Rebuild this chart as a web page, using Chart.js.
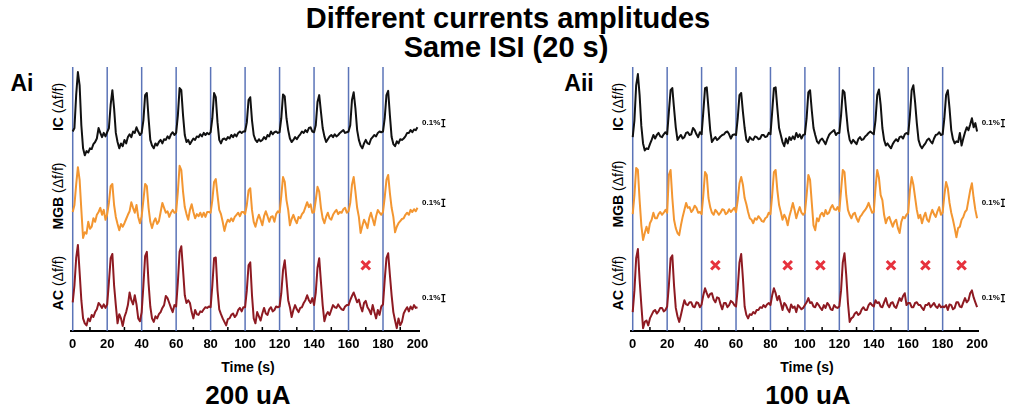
<!DOCTYPE html>
<html lang="en">
<head>
    <meta charset="UTF-8">
    <title>Different currents amplitudes, same ISI</title>
    <script src="https://cdn.jsdelivr.net/npm/chart.js"></script>
    <style>
        body {
            margin: 0;
            background: #fff;
            font-family: Arial, "Liberation Sans", sans-serif;
            color: #000;
        }
        #wrap {
            position: relative;
            width: 1016px;
            height: 411px;
            overflow: hidden;
        }
        canvas {
            position: absolute;
            top: 0;
        }
        .lbl {
            position: absolute;
            transform: translate(-50%, -50%);
            white-space: nowrap;
            font-weight: bold;
            line-height: 1;
        }
        .ylab {
            position: absolute;
            transform: translate(-50%, -50%) rotate(-90deg);
            white-space: nowrap;
            font-size: 14px;
            line-height: 1;
        }
        .ylab b { font-weight: bold; }
    </style>
</head>
<body>
<div id="wrap">
    <div class="lbl" style="left:508px;top:18px;font-size:29px">Different currents amplitudes</div>
    <div class="lbl" style="left:506px;top:47px;font-size:29px">Same ISI (20 s)</div>

    <div class="lbl" style="left:22px;top:83px;font-size:23px">Ai</div>
    <div class="lbl" style="left:579px;top:83px;font-size:23px">Aii</div>

    <div class="ylab" style="left:58px;top:107px"><b>IC</b> (Δf/f)</div>
    <div class="ylab" style="left:58px;top:196px"><b>MGB</b> (Δf/f)</div>
    <div class="ylab" style="left:58px;top:283px"><b>AC</b> (Δf/f)</div>
    <div class="ylab" style="left:618px;top:107px"><b>IC</b> (Δf/f)</div>
    <div class="ylab" style="left:618px;top:194px"><b>MGB</b> (Δf/f)</div>
    <div class="ylab" style="left:618px;top:283px"><b>AC</b> (Δf/f)</div>

    <div class="lbl" style="left:248px;top:367px;font-size:14px">Time (s)</div>
    <div class="lbl" style="left:807px;top:367px;font-size:14px">Time (s)</div>
    <div class="lbl" style="left:248px;top:395px;font-size:26px">200 uA</div>
    <div class="lbl" style="left:808px;top:395px;font-size:26px">100 uA</div>

    <canvas id="panelAi" width="508" height="411" style="left:0"></canvas>
    <canvas id="panelAii" width="508" height="411" style="left:508px"></canvas>
</div>

<script>
    // one sample per second, 0..200 s; values are Δf/f in %
    const SAMPLE_S = 1;

    // stimulus onsets (s), same for both current levels
    const stimTimes = [0, 20, 40, 60, 80, 100, 120, 140, 160, 180];

    // minor marks along the time axis (s)
    const axisMarks = [10, 30, 50, 70, 90, 110, 130, 150, 170, 190];

    // stimuli with no cortical response (marked with x)
    const missedAi = [170];
    const missedAii = [48, 90, 109, 150, 170, 191];

    // 200 uA
    const icAi = [
        0.01, 0.06, 0.53, 0.86, 0.67, 0.1, -0.23, -0.33, -0.27, -0.29, -0.23, -0.24, -0.17, -0.14, -0.09, 0.06, -0.01, -0.07, -0.01, -0.06,
        0, 0.06, 0.39, 0.6, 0.34, -0.01, -0.14, -0.23, -0.16, -0.2, -0.11, -0.16, -0.07, -0.03, -0.07, 0.01, -0.01, 0.07, 0.01, -0.04,
        -0.01, 0.17, 0.53, 0.56, 0.2, -0.11, -0.19, -0.23, -0.16, -0.19, -0.14, -0.11, -0.16, -0.1, -0.11, -0.06, -0.09, -0.03, 0, -0.04,
        -0.01, 0.24, 0.63, 0.6, 0.24, -0.04, -0.14, -0.11, -0.17, -0.13, -0.09, -0.11, -0.06, -0.07, -0.03, -0.06, -0.01, -0.04, -0.01, -0.03,
        0, 0.2, 0.56, 0.5, 0.14, -0.11, -0.16, -0.1, -0.09, -0.11, -0.07, -0.09, -0.04, -0.07, -0.03, -0.06, -0.01, 0.01, -0.01, 0.01,
        0.01, 0.14, 0.46, 0.5, 0.17, -0.04, -0.11, -0.14, -0.1, -0.13, -0.11, -0.07, -0.1, -0.04, -0.06, 0.01, -0.03, 0, 0.01, -0.01,
        0, 0.2, 0.54, 0.51, 0.2, 0.03, -0.09, -0.14, -0.11, -0.07, -0.1, -0.06, -0.03, 0.01, -0.01, 0.03, 0, 0.06, 0.07, 0.01,
        0, 0.1, 0.43, 0.53, 0.29, 0.06, -0.06, -0.14, -0.1, -0.06, -0.04, -0.07, -0.03, -0.06, -0.04, -0.01, 0.01, 0.03, -0.01, 0,
        0.01, 0.1, 0.46, 0.57, 0.34, 0.03, -0.11, -0.19, -0.23, -0.16, -0.11, -0.16, -0.17, -0.1, -0.07, -0.04, -0.06, -0.01, 0.01, 0,
        0.01, 0.2, 0.53, 0.59, 0.24, -0.07, -0.17, -0.2, -0.13, -0.16, -0.1, -0.11, -0.09, -0.06, -0.01, -0.01, 0.03, 0, 0.04, 0.03, 0.07
    ];
    const mgbAi = [
        0, 0.1, 0.39, 0.64, 0.46, 0.03, -0.37, -0.29, -0.31, -0.14, -0.24, -0.21, -0.09, -0.14, -0.04, 0, 0.06, -0.04, 0.03, -0.11,
        -0.03, 0.13, 0.37, 0.4, 0.1, -0.07, -0.17, -0.26, -0.17, -0.21, -0.16, -0.1, -0.04, 0.01, 0.14, 0.06, -0.01, 0.1, -0.07, -0.16,
        -0.06, 0.17, 0.4, 0.37, 0.06, -0.14, -0.23, -0.14, -0.09, -0.17, -0.13, 0, 0.13, 0.06, -0.01, 0.01, -0.07, -0.01, 0.03, -0.01,
        0, 0.29, 0.66, 0.6, 0.29, 0.07, -0.03, -0.11, 0.03, 0.11, 0, -0.09, -0.03, -0.06, -0.01, -0.07, -0.01, -0.07, 0, 0,
        -0.01, 0.17, 0.43, 0.47, 0.24, 0.03, -0.03, -0.14, -0.27, -0.17, -0.11, -0.14, -0.09, -0.13, -0.07, -0.04, -0.01, -0.06, 0, 0,
        -0.03, 0.1, 0.31, 0.34, 0.03, -0.14, -0.21, -0.11, -0.04, -0.11, -0.19, -0.06, 0.01, -0.06, -0.14, -0.07, -0.06, -0.14, -0.03, 0.01,
        -0.01, 0.23, 0.5, 0.43, 0.17, 0.03, -0.19, -0.1, -0.04, -0.11, -0.16, -0.07, -0.09, -0.03, 0, 0.07, 0.14, 0.07, 0.11, -0.01,
        0, 0.17, 0.36, 0.29, 0.06, -0.09, -0.16, -0.07, -0.01, -0.09, -0.11, -0.04, 0, 0.03, -0.03, 0, -0.01, 0.04, 0.06, -0.01,
        0.01, 0.13, 0.39, 0.5, 0.29, 0.06, -0.07, -0.3, -0.2, -0.11, -0.16, -0.23, -0.09, -0.01, -0.1, -0.19, -0.06, 0.03, -0.01, -0.04,
        0, 0.21, 0.46, 0.53, 0.27, 0.06, -0.07, -0.29, -0.21, -0.16, -0.13, -0.1, -0.09, -0.04, -0.01, -0.04, 0.03, 0, 0.04, 0.01, 0.06
    ];
    const acAi = [
        0.07, 0.31, 0.7, 0.89, 0.5, 0.1, -0.16, -0.23, -0.26, -0.16, -0.2, -0.11, -0.14, -0.07, -0.03, 0.06, 0.03, -0.01, 0.04, -0.01,
        0.04, 0.36, 0.7, 0.76, 0.31, 0.03, -0.23, -0.1, -0.16, -0.27, -0.14, -0.07, 0.03, 0.21, 0.1, 0.04, 0.17, 0.04, -0.16, -0.2,
        -0.07, 0.31, 0.73, 0.79, 0.34, 0.01, -0.16, -0.21, -0.13, -0.16, -0.1, -0.07, -0.01, 0.03, 0.16, 0.13, 0.06, -0.01, -0.07, 0.03,
        0.01, 0.36, 0.79, 0.87, 0.53, 0.17, 0.06, 0.1, 0.06, -0.07, -0.16, -0.04, -0.1, -0.11, -0.06, -0.07, -0.03, 0, -0.01, 0.01,
        0, 0.31, 0.7, 0.71, 0.24, -0.03, -0.1, -0.16, -0.21, -0.26, -0.17, -0.16, -0.11, -0.09, -0.14, -0.11, -0.04, -0.01, -0.06, 0,
        0, 0.24, 0.6, 0.64, 0.17, -0.16, -0.23, -0.07, -0.13, -0.19, -0.09, -0.01, -0.09, -0.11, -0.03, 0, -0.06, -0.04, 0.01, 0,
        0.01, 0.2, 0.53, 0.67, 0.39, 0.1, 0, -0.14, -0.04, 0.03, -0.03, -0.07, -0.01, 0, 0.06, 0.1, 0.17, 0.1, 0.06, 0.13,
        0.03, 0.21, 0.56, 0.7, 0.36, 0.03, -0.2, -0.11, -0.07, -0.11, -0.04, 0.03, 0, -0.01, 0.04, 0, -0.03, -0.04, 0.01, 0.03,
        0.03, 0.1, 0.16, 0.21, 0.14, 0.07, 0.11, 0.01, -0.06, 0.06, 0.09, 0, -0.04, -0.1, 0.03, -0.07, -0.16, -0.04, -0.11, 0.01,
        0.04, 0.39, 0.7, 0.77, 0.46, 0.17, -0.07, -0.19, -0.3, -0.16, -0.26, -0.21, -0.09, -0.04, 0, -0.06, 0.01, -0.03, 0.03, -0.01, 0
    ];

    // 100 uA
    const icAii = [
        -0.07, 0.17, 0.67, 0.83, 0.53, 0.09, -0.16, -0.26, -0.23, -0.24, -0.17, -0.11, -0.04, -0.09, -0.04, -0.01, -0.06, -0.07, -0.03, 0,
        -0.03, 0.29, 0.6, 0.63, 0.34, 0.07, -0.11, -0.07, -0.04, -0.09, -0.07, -0.01, 0, -0.04, -0.03, 0.06, 0.03, -0.03, -0.07, 0,
        -0.03, 0.29, 0.63, 0.64, 0.34, 0.03, -0.14, -0.1, -0.07, -0.11, -0.09, -0.06, -0.04, -0.03, 0, 0.01, -0.03, -0.09, -0.04, -0.03,
        -0.04, 0.2, 0.53, 0.56, 0.29, 0.06, -0.11, -0.14, -0.07, -0.1, -0.11, -0.06, -0.07, -0.1, -0.09, -0.04, -0.04, -0.07, -0.06, -0.01,
        -0.03, 0.29, 0.63, 0.64, 0.34, 0.06, -0.04, -0.14, -0.2, -0.09, -0.16, -0.07, -0.11, -0.06, -0.1, -0.01, -0.07, -0.03, -0.09, -0.04,
        -0.03, 0.2, 0.57, 0.6, 0.31, 0.06, -0.04, -0.13, -0.16, -0.11, -0.09, -0.13, -0.17, -0.1, -0.04, -0.01, 0.01, 0.03, -0.04, -0.01,
        -0.01, 0.24, 0.6, 0.57, 0.29, 0.03, -0.11, -0.16, -0.11, -0.14, -0.17, -0.1, -0.07, -0.11, -0.1, -0.06, -0.04, -0.01, 0.01, -0.01,
        -0.03, 0.17, 0.53, 0.61, 0.39, 0.06, -0.11, -0.19, -0.16, -0.2, -0.23, -0.17, -0.13, -0.1, -0.13, -0.07, -0.06, -0.09, -0.03, -0.01,
        -0.03, 0.24, 0.6, 0.67, 0.43, 0.13, -0.11, -0.19, -0.23, -0.19, -0.16, -0.11, -0.09, -0.13, -0.16, -0.09, -0.04, -0.03, 0, -0.04,
        -0.03, 0.2, 0.53, 0.6, 0.34, 0.03, -0.1, -0.16, -0.13, -0.14, -0.01, -0.19, -0.09, 0, 0.07, 0.03, 0.11, 0.2, 0.07, 0.13, 0.01
    ];
    const mgbAii = [
        -0.03, 0.24, 0.63, 0.6, 0.17, -0.19, -0.4, -0.3, -0.21, -0.3, -0.16, -0.11, -0.01, -0.09, -0.09, -0.03, 0, -0.04, -0.01, 0.03,
        -0.01, 0.53, 0.6, 0.2, -0.11, -0.23, -0.3, -0.33, -0.19, -0.07, 0.03, 0.13, 0.06, 0.07, 0, 0.03, 0.09, 0.06, -0.01, 0,
        -0.03, 0.24, 0.57, 0.53, 0.2, 0.07, -0.01, -0.04, 0.03, 0, -0.04, -0.01, 0.04, 0.03, -0.03, -0.01, 0.04, 0, 0.03, 0.06,
        0, 0.17, 0.41, 0.5, 0.39, 0.2, 0.11, 0, -0.09, -0.11, -0.16, -0.09, -0.11, -0.06, -0.09, -0.13, -0.14, -0.09, -0.07, -0.01,
        -0.03, 0.24, 0.57, 0.6, 0.31, 0.1, 0, -0.11, -0.04, -0.09, -0.19, -0.06, 0.03, 0.13, 0.03, -0.09, 0, 0.07, -0.01, -0.04,
        -0.01, 0.24, 0.53, 0.46, 0.13, -0.19, -0.26, -0.09, -0.13, -0.04, -0.01, -0.06, 0.03, -0.03, -0.01, 0.06, 0.1, 0.04, 0.03, 0.07,
        0.01, 0.31, 0.6, 0.57, 0.24, 0.03, -0.04, -0.09, -0.03, -0.01, -0.09, -0.14, -0.07, -0.04, 0, 0.03, 0.07, 0.13, 0.06, -0.01,
        0, 0.34, 0.6, 0.49, 0.24, 0.17, -0.04, -0.16, -0.09, -0.07, -0.14, -0.21, -0.14, -0.11, -0.23, -0.3, -0.14, -0.07, -0.09, -0.04,
        -0.01, 0.31, 0.5, 0.39, 0.21, 0.03, -0.09, -0.04, -0.16, -0.07, -0.01, -0.11, -0.14, -0.04, 0.03, -0.03, -0.07, 0.01, 0.07, -0.04,
        -0.01, 0.24, 0.43, 0.34, 0.13, -0.01, -0.11, -0.23, -0.36, -0.23, -0.21, -0.11, -0.07, 0, 0.03, 0.17, 0.31, 0.41, 0.2, 0.03, -0.09
    ];
    const acAii = [
        -0.07, 0.24, 0.7, 0.83, 0.39, 0.03, -0.3, -0.21, -0.19, -0.26, -0.16, -0.11, -0.06, -0.04, -0.09, -0.06, -0.01, -0.01, -0.06, -0.04,
        0.01, 0.31, 0.7, 0.74, 0.31, -0.01, -0.13, -0.21, -0.11, 0, 0.1, 0.04, 0.03, 0.07, 0.07, 0.01, 0, 0.07, 0.06, 0,
        0.04, 0.17, 0.27, 0.2, 0.14, 0.19, 0.2, 0.11, 0.07, 0.14, 0.13, 0.04, -0.03, 0.06, 0.06, 0, 0.03, 0.09, 0.07, 0.03,
        0.01, 0.27, 0.64, 0.76, 0.41, 0.01, -0.11, -0.16, -0.1, -0.11, -0.07, -0.09, -0.04, -0.04, 0, -0.01, 0.03, 0, 0.04, 0.06,
        0.03, 0.17, 0.27, 0.2, 0.1, 0.16, 0.06, -0.04, 0.06, 0.03, -0.03, -0.07, 0.04, -0.01, 0.01, -0.07, 0.03, 0, -0.03, -0.01,
        0.03, 0.07, 0.13, 0.06, 0.07, 0.01, 0, 0.06, 0.03, -0.01, -0.04, 0.03, -0.01, 0.06, 0.03, -0.03, -0.04, 0.03, 0, -0.01,
        0.01, 0.24, 0.64, 0.77, 0.46, 0.06, -0.21, -0.16, -0.14, -0.09, -0.07, -0.11, -0.09, -0.03, 0, -0.04, -0.04, 0.03, 0.06, 0.03,
        0.01, 0.1, 0.06, 0.07, 0.01, 0, 0.07, 0.13, 0.04, 0, 0.06, 0.07, 0.01, -0.01, 0.06, 0.13, 0.09, 0.16, 0.2, 0.03,
        0.06, 0.06, 0, 0, 0.06, 0.07, 0.03, 0.03, -0.01, -0.04, 0.03, 0.03, 0.06, 0, 0.03, 0.06, 0.01, -0.01, 0.04, 0,
        0.01, 0, 0.03, -0.04, 0.04, 0.03, -0.03, -0.01, 0.07, 0.07, 0.01, 0, 0.07, 0.13, 0.07, 0.1, 0.2, 0.24, 0.14, 0.07, 0
    ];

    // vertical stacking of the three regions (Δf/f units on a shared axis)
    const Y_MAX = 3.843;
    const BASE_IC = 2.84, BASE_MGB = 1.70, BASE_AC = 0.34;
    const STIM_TOP = 3.77;
    const MISS_LEVEL = 0.94;
    const SCALE_BAR = 0.1;   // 0.1 % calibration
    const BAR_T = 215;       // calibration bar position on the time axis

    const COL_IC = '#111111', COL_MGB = '#f39631', COL_AC = '#8e1a22';
    const COL_STIM = '#5b74b8', COL_MISS = '#e6323d';

    const panelDecor = {
        id: 'panelDecor',
        afterDraw(chart) {
            const { ctx } = chart;
            const x = chart.scales.x, y = chart.scales.y;
            ctx.save();
            // short inward marks between the labelled ticks
            ctx.strokeStyle = '#000';
            ctx.lineWidth = 1.5;
            axisMarks.forEach(t => {
                const px = x.getPixelForValue(t);
                ctx.beginPath();
                ctx.moveTo(px, y.bottom);
                ctx.lineTo(px, y.bottom - 4);
                ctx.stroke();
            });
            // 0.1% calibration bars next to each trace
            const bx = x.getPixelForValue(BAR_T);
            ctx.lineWidth = 1.2;
            ctx.font = 'bold 8px Arial, "Liberation Sans", sans-serif';
            ctx.fillStyle = '#000';
            ctx.textAlign = 'right';
            ctx.textBaseline = 'middle';
            [BASE_IC, BASE_MGB, BASE_AC].forEach(base => {
                const y1 = y.getPixelForValue(base + 0.08);
                const y2 = y.getPixelForValue(base + 0.08 + SCALE_BAR);
                ctx.beginPath();
                ctx.moveTo(bx, y1); ctx.lineTo(bx, y2);
                ctx.moveTo(bx - 2, y1); ctx.lineTo(bx + 2, y1);
                ctx.moveTo(bx - 2, y2); ctx.lineTo(bx + 2, y2);
                ctx.stroke();
                ctx.fillText('0.1%', bx - 3, (y1 + y2) / 2);
            });
            ctx.restore();
        }
    };

    function drawPanel(canvasId, ic, mgb, ac, missed, padLeft, padRight) {
        const toPoints = (vals, base) => vals.map((v, i) => ({ x: i * SAMPLE_S, y: v + base }));
        const traces = [
            { vals: ic, base: BASE_IC, color: COL_IC },
            { vals: mgb, base: BASE_MGB, color: COL_MGB },
            { vals: ac, base: BASE_AC, color: COL_AC }
        ];
        const datasets = traces.map(tr => ({
            data: toPoints(tr.vals, tr.base),
            borderColor: tr.color,
            borderWidth: 2,
            pointRadius: 0,
            tension: 0,
            borderJoinStyle: 'round',
            order: 1
        }));
        stimTimes.forEach(t => datasets.push({
            data: [{ x: t, y: 0 }, { x: t, y: STIM_TOP }],
            borderColor: COL_STIM,
            borderWidth: 1.5,
            pointRadius: 0,
            order: 2
        }));
        datasets.push({
            type: 'scatter',
            data: missed.map(t => ({ x: t, y: MISS_LEVEL })),
            pointStyle: 'crossRot',
            pointRadius: 6,
            borderWidth: 3,
            borderColor: COL_MISS,
            backgroundColor: COL_MISS,
            order: 0
        });

        new Chart(document.getElementById(canvasId), {
            type: 'line',
            data: { datasets },
            options: {
                responsive: false,
                animation: false,
                devicePixelRatio: 1,
                layout: { padding: { left: padLeft, right: padRight, top: 62, bottom: 40 } },
                plugins: { legend: { display: false }, tooltip: { enabled: false } },
                scales: {
                    x: {
                        type: 'linear',
                        min: -1,
                        max: 201,
                        afterFit: s => { s.height = 40; },
                        grid: { display: false, drawTicks: false },
                        border: { display: true, color: '#000', width: 2 },
                        ticks: {
                            stepSize: 20,
                            includeBounds: false,
                            autoSkip: false,
                            maxRotation: 0,
                            padding: 6,
                            color: '#000',
                            font: { family: 'Arial, "Liberation Sans", sans-serif', weight: 'bold', size: 13 }
                        }
                    },
                    y: { display: false, min: 0, max: Y_MAX }
                }
            },
            plugins: [panelDecor]
        });
    }

    drawPanel('panelAi', icAi, mgbAi, acAi, missedAi, 71.0, 88.8);
    drawPanel('panelAii', icAii, mgbAii, acAii, missedAii, 123.0, 37.2);
</script>
</body>
</html>
